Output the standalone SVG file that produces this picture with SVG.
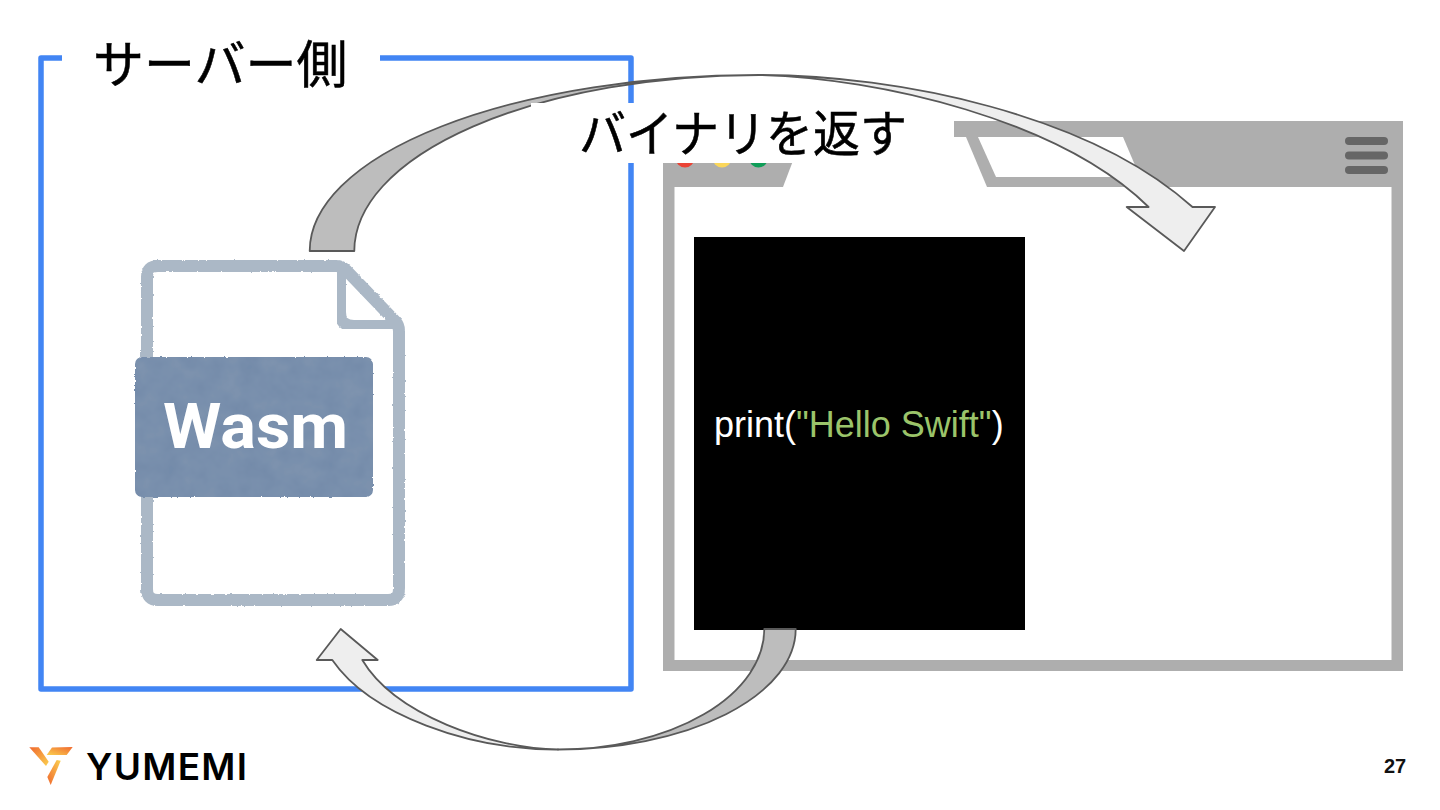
<svg xmlns="http://www.w3.org/2000/svg" width="1440" height="810" viewBox="0 0 1440 810">
<style>
.cjk{font-family:"Noto Sans CJK JP","Liberation Sans",sans-serif;fill:#000;stroke:#000;stroke-width:0.5}
.ar{stroke:#595959;stroke-width:1.800;stroke-linejoin:round}
.back{fill:#bdbdbd}
.front{fill:#eeeeee}
.code{font-family:"Liberation Sans",Arial,sans-serif;font-size:36px;fill:#fff}
.hb{fill:#666}
.fl{fill:none;stroke:#abb8c6;stroke-width:12}
</style>
<defs>
<filter id="rough" x="-5%" y="-5%" width="110%" height="110%">
<feTurbulence type="fractalNoise" baseFrequency="0.3" numOctaves="2" seed="4" result="n"/>
<feDisplacementMap in="SourceGraphic" in2="n" scale="2.500" xChannelSelector="R" yChannelSelector="G"/>
<feGaussianBlur stdDeviation="0.5"/>
</filter>
<filter id="mottle" x="-5%" y="-5%" width="110%" height="110%">
<feTurbulence type="fractalNoise" baseFrequency="0.05" numOctaves="3" seed="11" result="w0"/>
<feColorMatrix in="w0" type="matrix" values="0 0 0 0 0.6  0 0 0 0 0.65  0 0 0 0 0.7  0.12 0 0 0 0" result="w"/>
<feTurbulence type="fractalNoise" baseFrequency="0.3" numOctaves="2" seed="7" result="n"/>
<feDisplacementMap in="SourceGraphic" in2="n" scale="2.500" xChannelSelector="R" yChannelSelector="G" result="d"/>
<feComposite in="w" in2="d" operator="atop"/>
<feGaussianBlur stdDeviation="0.4"/>
</filter>
<linearGradient id="lg1" x1="0" y1="0" x2="1" y2="1"><stop offset="0" stop-color="#f0682e"/><stop offset="1" stop-color="#fbd050"/></linearGradient>
<linearGradient id="lg2" x1="1" y1="0" x2="0" y2="1"><stop offset="0" stop-color="#f0682e"/><stop offset="1" stop-color="#fbd050"/></linearGradient>
<linearGradient id="lg3" x1="0" y1="1" x2="1" y2="0"><stop offset="0" stop-color="#f0682e"/><stop offset="1" stop-color="#fbd050"/></linearGradient>
</defs>
<rect width="1440" height="810" fill="#fff"/>

<g id="server">
<rect x="41" y="58" width="590" height="631" fill="none" stroke="#4285f4" stroke-width="5.500" stroke-linejoin="round"/>
<rect x="62" y="40" width="318" height="50" fill="#fff"/>
<text class="cjk" x="93" y="83" font-size="51">サーバー側</text>
</g>

<g id="browser">
<rect x="663" y="121" width="740" height="550" fill="#aeaeae"/>
<rect x="674.500" y="187" width="717" height="473" fill="#fff"/>
<polygon points="802,137 783,187 987,187 966,137" fill="#fff"/>
<polygon points="978,137 1123,137 1140,177 996,177" fill="#fff"/>
<circle cx="685" cy="158" r="9.500" fill="#ea4335"/>
<circle cx="722" cy="158" r="9.500" fill="#fbd75b"/>
<circle cx="758.500" cy="158" r="9.500" fill="#0f9d58"/>
<rect class="hb" x="1345" y="137" width="43" height="8" rx="4"/>
<rect class="hb" x="1345" y="151.500" width="43" height="8" rx="4"/>
<rect class="hb" x="1345" y="166" width="43" height="8" rx="4"/>
</g>

<g id="screen">
<rect x="694" y="237" width="331" height="393" fill="#000"/>
<text class="code" x="714" y="437">print(<tspan fill="#9bc46a">"Hello Swift"</tspan>)</text>
</g>

<g id="wasm-file">
<path class="fl" d="M153,266H336Q342,266 346,270L395,321Q399,325 399,331V589Q399,600 388,600H158Q147,600 147,589V277Q147,266 158,266Z" style="fill:#fff" filter="url(#rough)"/>
<path class="fl" d="M340,268V312Q340,326 354,326H398" filter="url(#rough)"/>
<rect x="135" y="357" width="238" height="140" rx="7" fill="#7189a9" filter="url(#mottle)"/>
<text x="163" y="448" font-family="Roboto,'Liberation Sans',sans-serif" font-weight="700" font-size="63" fill="#fff" textLength="185" lengthAdjust="spacingAndGlyphs">Wasm</text>
</g>

<g id="connectors">
<path class="ar back" d="M309.700,251A449,176 0 0 1 759,75A405,176 0 0 0 354.300,251Z"/>
<path class="ar back" d="M795.700,629A237.700,120.500 0 0 1 558,749.500A206,120.500 0 0 0 764.300,629Z"/>
<path class="ar front" d="M558,749.500C470,750 370,715 332.300,660H316.700L340.700,629L377.700,660H362.300C395,715 490,748 558,749.500Z"/>
</g>

<g id="return-label">
<rect x="531" y="103" width="423" height="60" fill="#fff"/>
<text class="cjk" transform="translate(579,152) scale(1,1.060)" font-size="47">バイナリを返す</text>
</g>

<g id="connectors-front">
<path class="ar front" d="M759,75C900,75 1090,115 1192.500,207H1215L1184,251L1126.700,207H1148.600C1060,120 880,78 759,75Z"/>
</g>

<g id="logo">
<polygon points="29.300,747.300 38.700,747.300 48.700,761.700 46,766" fill="url(#lg1)"/>
<polygon points="52,747.500 72.700,747 66.700,755 46.700,755" fill="url(#lg2)"/>
<polygon points="56.700,760 60.700,760.700 50.700,785 47.300,777" fill="url(#lg3)"/>
<text x="86" y="780" font-family="Inter,'Liberation Sans',sans-serif" font-weight="600" font-size="37" fill="#000" textLength="161" lengthAdjust="spacing">YUMEMI</text>
</g>

<text id="page" x="1384" y="773" font-family="'Liberation Sans',Arial,sans-serif" font-weight="700" font-size="20" fill="#111">27</text>
</svg>
